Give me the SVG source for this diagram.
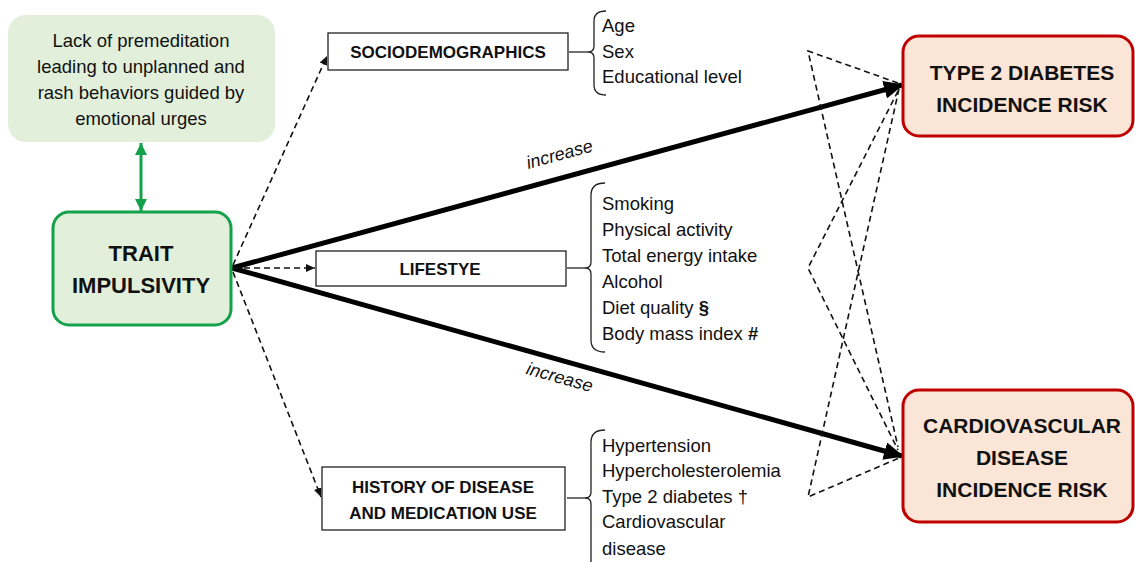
<svg xmlns="http://www.w3.org/2000/svg" width="1135" height="562" viewBox="0 0 1135 562">
<style>
  text { font-family: "Liberation Sans", Arial, sans-serif; fill: #111; }
  .n { font-size: 18.5px; }
  .b { font-size: 17px; font-weight: bold; }
  .big { font-size: 21px; font-weight: bold; }
  .trait { font-size: 22px; font-weight: bold; }
  .it { font-size: 18px; font-style: italic; }
  .box { fill: #fff; stroke: #222; stroke-width: 1.3; }
  .dash { fill: none; stroke: #111; stroke-width: 1.6; stroke-dasharray: 6 4; }
  .thick { fill: none; stroke: #000; stroke-width: 5; }
  .brace { fill: none; stroke: #222; stroke-width: 1.3; }
</style>
<defs>
  <marker id="ah" markerUnits="userSpaceOnUse" markerWidth="20" markerHeight="18" refX="18" refY="9" orient="auto">
    <path d="M0,0 L20,9 L0,18 Z" fill="#000"/>
  </marker>
  <marker id="ad" markerUnits="userSpaceOnUse" markerWidth="9" markerHeight="8" refX="9" refY="4" orient="auto">
    <path d="M0,0 L9,4 L0,8 Z" fill="#111"/>
  </marker>
  <marker id="ag" markerUnits="userSpaceOnUse" markerWidth="12" markerHeight="12" refX="12" refY="6" orient="auto-start-reverse">
    <path d="M0,0 L12,6 L0,12 Z" fill="#13a14b"/>
  </marker>
</defs>

<g id="connectors">
  <line x1="141" y1="143" x2="141" y2="211" stroke="#13a14b" stroke-width="3" marker-start="url(#ag)" marker-end="url(#ag)"/>
  <line class="thick" x1="232" y1="268" x2="902" y2="85" marker-end="url(#ah)"/>
  <line class="thick" x1="232" y1="268" x2="902" y2="456" marker-end="url(#ah)"/>
  <line class="dash" x1="233" y1="265" x2="327" y2="56" marker-end="url(#ad)"/>
  <line class="dash" x1="234" y1="268" x2="315" y2="268" marker-end="url(#ad)"/>
  <line class="dash" x1="233" y1="272" x2="321" y2="497" marker-end="url(#ad)"/>
  <polyline class="dash" points="898,83 808,51 898,447"/>
  <polyline class="dash" points="898,91 808,268 898,450"/>
  <polyline class="dash" points="899,89 808,497 899,458"/>
  <text class="it" text-anchor="middle" transform="translate(561,160) rotate(-15.3)">increase</text>
  <text class="it" text-anchor="middle" transform="translate(558,383) rotate(15.6)">increase</text>
</g>

<g id="lack">
  <rect x="8" y="15" width="267" height="127" rx="18" fill="#e2efda"/>
  <text class="n" text-anchor="middle" x="141" y="47">Lack of premeditation</text>
  <text class="n" text-anchor="middle" x="141" y="73">leading to unplanned and</text>
  <text class="n" text-anchor="middle" x="141" y="99">rash behaviors guided by</text>
  <text class="n" text-anchor="middle" x="141" y="125">emotional urges</text>
</g>

<g id="trait">
  <rect x="53" y="212" width="178" height="113" rx="16" fill="#e2efda" stroke="#13a14b" stroke-width="3"/>
  <text class="trait" text-anchor="middle" x="141" y="261">TRAIT</text>
  <text class="trait" text-anchor="middle" x="141" y="293">IMPULSIVITY</text>
</g>

<g id="sociodemographics">
  <rect class="box" x="328" y="33" width="240" height="37"/>
  <text class="b" text-anchor="middle" x="448" y="58">SOCIODEMOGRAPHICS</text>
  <line class="brace" x1="569" y1="52" x2="588" y2="52"/>
  <path class="brace" d="M606,11 Q594,11 594,21 L594,46 Q594,52 588,52 Q594,52 594,58 L594,85 Q594,95 606,95"/>
  <text class="n" x="602" y="32">Age</text>
  <text class="n" x="602" y="58">Sex</text>
  <text class="n" x="602" y="83">Educational level</text>
</g>

<g id="lifestyle">
  <rect class="box" x="316" y="251" width="250" height="35"/>
  <text class="b" text-anchor="middle" x="440" y="275">LIFESTYE</text>
  <line class="brace" x1="567" y1="268" x2="585" y2="268"/>
  <path class="brace" d="M605,183 Q591,183 591,195 L591,262 Q591,268 585,268 Q591,268 591,274 L591,340 Q591,352 605,352"/>
  <text class="n" x="602" y="210">Smoking</text>
  <text class="n" x="602" y="236">Physical activity</text>
  <text class="n" x="602" y="262">Total energy intake</text>
  <text class="n" x="602" y="288">Alcohol</text>
  <text class="n" x="602" y="314">Diet quality <tspan font-weight="bold">§</tspan></text>
  <text class="n" x="602" y="340">Body mass index <tspan font-weight="bold">#</tspan></text>
</g>

<g id="history">
  <rect class="box" x="322" y="467" width="243" height="63"/>
  <text class="b" text-anchor="middle" x="443" y="493">HISTORY OF DISEASE</text>
  <text class="b" text-anchor="middle" x="443" y="519">AND MEDICATION USE</text>
  <line class="brace" x1="567" y1="498" x2="585" y2="498"/>
  <path class="brace" d="M605,430 Q591,430 591,442 L591,492 Q591,498 585,498 Q591,498 591,504 L591,570"/>
  <text class="n" x="602" y="452">Hypertension</text>
  <text class="n" x="602" y="477">Hypercholesterolemia</text>
  <text class="n" x="602" y="503">Type 2 diabetes †</text>
  <text class="n" x="602" y="528">Cardiovascular</text>
  <text class="n" x="602" y="555">disease</text>
</g>

<g id="t2d">
  <rect x="903" y="36" width="230" height="100" rx="16" fill="#fbe5d6" stroke="#c00000" stroke-width="3"/>
  <text class="big" text-anchor="middle" x="1022" y="80">TYPE 2 DIABETES</text>
  <text class="big" text-anchor="middle" x="1022" y="112">INCIDENCE RISK</text>
</g>

<g id="cvd">
  <rect x="903" y="390" width="230" height="132" rx="16" fill="#fbe5d6" stroke="#c00000" stroke-width="3"/>
  <text class="big" text-anchor="middle" x="1022" y="433">CARDIOVASCULAR</text>
  <text class="big" text-anchor="middle" x="1022" y="465">DISEASE</text>
  <text class="big" text-anchor="middle" x="1022" y="497">INCIDENCE RISK</text>
</g>
</svg>
